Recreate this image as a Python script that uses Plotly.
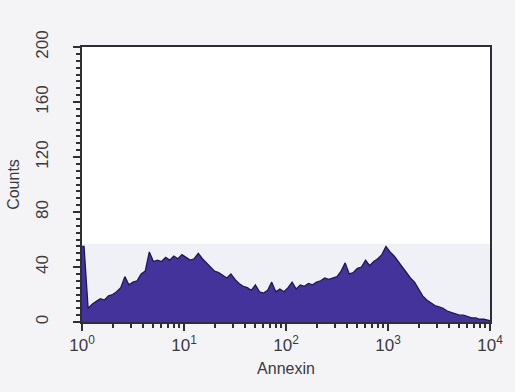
import numpy as np
import plotly.graph_objects as go

# Histogram of Annexin fluorescence (log scale, 100 bins over 4 decades)
decade_start = 0.0
decade_end = 4.0
counts = [
    55, 10, 13, 15, 17, 16, 19, 20, 22, 25,
    33, 27, 29, 30, 35, 37, 51, 44, 45, 44,
    47, 45, 48, 46, 49, 47, 45, 46, 50, 46,
    43, 40, 37, 36, 34, 32, 35, 31, 28, 26,
    25, 23, 27, 22, 21, 23, 29, 22, 24, 22,
    25, 29, 24, 27, 26, 28, 27, 29, 30, 32,
    31, 32, 33, 37, 43, 35, 36, 39, 40, 45,
    41, 44, 46, 49, 55, 51, 48, 44, 40, 36,
    32, 29, 24, 19, 16, 14, 12, 11, 10, 8,
    7, 6, 5, 5, 4, 3, 3, 2, 2, 1,
]
x_tickvals = [1, 10, 100, 1000, 10000]
x_ticktext = ["10<sup>0</sup>", "10<sup>1</sup>", "10<sup>2</sup>", "10<sup>3</sup>", "10<sup>4</sup>"]
y_tickvals = [0, 40, 80, 120, 160, 200]
y_ticktext = ["0", "40", "80", "120", "160", "200"]
x_title = "Annexin"
y_title = "Counts"
band_top = 57  # faint shaded band behind histogram (scan tint)

n = len(counts)
edges = np.linspace(decade_start, decade_end, n + 1)
centers = (edges[:-1] + edges[1:]) / 2
xs = np.concatenate([[10 ** decade_start], 10 ** centers, [10 ** decade_end]])
ys = [counts[0]] + counts + [counts[-1]]

x_minor = [m * 10 ** d for d in range(4) for m in range(2, 10)]
y_minor = list(range(0, 201, 5))

fill_col = "#45339c"
line_col = "#1d1850"
axis_col = "#2e2e36"
font_col = "#3a3a40"

fig = go.Figure()
fig.add_trace(go.Scatter(
    x=xs, y=ys, mode="lines", line=dict(shape="linear", color=line_col, width=1.3),
    fill="tozeroy", fillcolor=fill_col, hoverinfo="skip", showlegend=False,
))

fig.add_shape(type="rect", xref="x domain", yref="y", x0=0, x1=1, y0=0, y1=band_top,
              fillcolor="#f0f0f7", line=dict(width=0), layer="below")

fig.update_layout(
    width=515, height=392,
    margin=dict(l=82, r=19, t=47, b=70),
    paper_bgcolor="#f4f4f7",
    plot_bgcolor="#ffffff",
    font=dict(family="Liberation Sans, Arial, sans-serif", color=font_col, size=16),
)
fig.update_xaxes(
    type="log", range=[decade_start, decade_end],
    tickmode="array", tickvals=x_tickvals, ticktext=x_ticktext,
    ticks="outside", ticklen=7, tickwidth=2, tickcolor=axis_col,
    minor=dict(tickmode="array", tickvals=x_minor, ticks="outside", ticklen=4, tickwidth=1.5, tickcolor=axis_col),
    showline=True, linecolor=axis_col, linewidth=2, mirror=True,
    showgrid=False, zeroline=False,
    tickfont=dict(size=17), title=dict(text=x_title, font=dict(size=16), standoff=8),
)
fig.update_yaxes(
    range=[0, 200],
    tickmode="array", tickvals=y_tickvals, ticktext=y_ticktext, tickangle=-90,
    ticks="outside", ticklen=7, tickwidth=2, tickcolor=axis_col,
    minor=dict(tickmode="array", tickvals=y_minor, ticks="outside", ticklen=4, tickwidth=1.5, tickcolor=axis_col),
    showline=True, linecolor=axis_col, linewidth=2, mirror=True,
    showgrid=False, zeroline=False, ticklabelstandoff=18,
    tickfont=dict(size=17), title=dict(text=y_title, font=dict(size=16), standoff=10),
)

fig.write_html("out.html")
